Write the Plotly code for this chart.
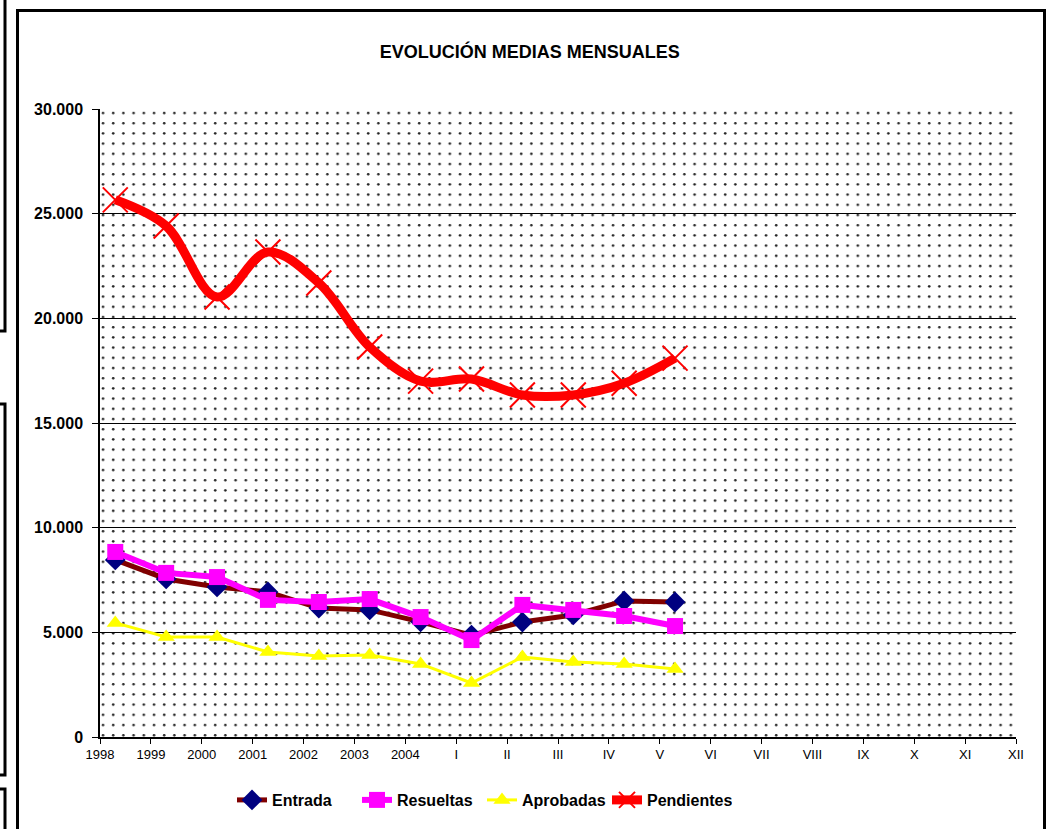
import base64
import plotly.graph_objects as go

# ---- data ----
categories = ["1998", "1999", "2000", "2001", "2002", "2003", "2004",
              "I", "II", "III", "IV", "V"]
axis_labels = ["1998", "1999", "2000", "2001", "2002", "2003", "2004",
               "I", "II", "III", "IV", "V", "VI", "VII", "VIII", "IX", "X", "XI", "XII"]
entrada = [8460, 7550, 7170, 6930, 6160, 6070, 5500, 4870, 5490, 5830, 6500, 6450]
resueltas = [8840, 7840, 7640, 6550, 6450, 6590, 5730, 4630, 6310, 6070, 5780, 5300]
aprobadas = [5450, 4780, 4780, 4060, 3870, 3920, 3490, 2580, 3820, 3580, 3490, 3250]
pendientes = [25660, 24410, 21020, 23170, 21690, 18630, 17000, 17100, 16340, 16340, 16900, 18100]

# ---- layout constants ----
W, H = 1051, 829
L, R, T, B = 100, 35, 109, 92
PW, PH = W - L - R, H - T - B
OFFSET = 0.3  # points sit 30% into each category slot
xpos = [axis_labels.index(c) + OFFSET for c in categories]

FONT = "Liberation Sans, Arial, sans-serif"

# dotted background pattern as inline SVG
svg = (
    f'<svg xmlns="http://www.w3.org/2000/svg" width="{PW}" height="{PH}" viewBox="0 0 {PW} {PH}">'
    '<defs><pattern id="p" width="10.2" height="10.2" patternUnits="userSpaceOnUse">'
    '<circle cx="3" cy="4" r="1.3" fill="#222"/>'
    '</pattern></defs>'
    f'<rect width="{PW}" height="{PH}" fill="white"/>'
    f'<rect width="{PW}" height="{PH}" fill="url(#p)"/></svg>'
)
svg_uri = "data:image/svg+xml;base64," + base64.b64encode(svg.encode()).decode()

fig = go.Figure()
fig.add_trace(go.Scatter(
    x=xpos, y=entrada, name="Entrada", mode="lines+markers",
    line=dict(color="#800000", width=5),
    marker=dict(symbol="diamond", size=16, color="#000080", line=dict(width=0)),
))
fig.add_trace(go.Scatter(
    x=xpos, y=resueltas, name="Resueltas", mode="lines+markers",
    line=dict(color="#FF00FF", width=6),
    marker=dict(symbol="square", size=16, color="#FF00FF", line=dict(width=0)),
))
fig.add_trace(go.Scatter(
    x=xpos, y=aprobadas, name="Aprobadas", mode="lines+markers",
    line=dict(color="#FFFF00", width=3),
    marker=dict(symbol="triangle-up", size=15, color="#FFFF00", line=dict(width=0)),
))
fig.add_trace(go.Scatter(
    x=xpos, y=pendientes, name="Pendientes", mode="lines+markers",
    line=dict(color="#FF0000", width=9, shape="spline", smoothing=1.0),
    marker=dict(symbol="x-thin-open", size=25, color="#FF0000",
                line=dict(width=2, color="#FF0000")),
))


def px_x(p):
    return (p - L) / PW


def px_y(p):
    return (H - B - p) / PH


shapes = [
    # outer chart frame
    dict(type="rect", xref="paper", yref="paper",
         x0=px_x(17.5), x1=px_x(1044.5), y0=px_y(850), y1=px_y(10.5),
         line=dict(color="black", width=3), fillcolor="rgba(0,0,0,0)"),
    # neighbouring frames on the far left
    dict(type="path", xref="paper", yref="paper",
         path=f"M {px_x(5)} {px_y(-5)} L {px_x(5)} {px_y(331)} L {px_x(-5)} {px_y(331)}",
         line=dict(color="black", width=3)),
    dict(type="path", xref="paper", yref="paper",
         path=f"M {px_x(-5)} {px_y(404)} L {px_x(5)} {px_y(404)} L {px_x(5)} {px_y(775)} L {px_x(-5)} {px_y(775)}",
         line=dict(color="black", width=3)),
    dict(type="path", xref="paper", yref="paper",
         path=f"M {px_x(-5)} {px_y(789)} L {px_x(5)} {px_y(789)} L {px_x(5)} {px_y(850)}",
         line=dict(color="black", width=3)),
]

fig.update_layout(
    width=W, height=H,
    margin=dict(l=L, r=R, t=T, b=B),
    paper_bgcolor="white",
    plot_bgcolor="white",
    separators=",.",
    font=dict(family=FONT, color="black"),
    title=dict(text="<b>EVOLUCIÓN MEDIAS MENSUALES</b>", x=0.504, xref="container",
               xanchor="center", y=1 - 52 / H, yanchor="middle",
               font=dict(size=18, family=FONT, color="black")),
    showlegend=True,
    legend=dict(orientation="h", x=px_x(232), xanchor="left",
                y=px_y(783), yanchor="top", valign="middle",
                font=dict(size=16, family=FONT, color="black", weight="bold"),
                bgcolor="rgba(0,0,0,0)", itemwidth=30,
                entrywidth=80, entrywidthmode="pixels"),
    images=[dict(source=svg_uri, xref="paper", yref="paper", x=0, y=1,
                 sizex=1, sizey=1, xanchor="left", yanchor="top",
                 sizing="stretch", layer="below")],
    shapes=shapes,
)

fig.update_xaxes(
    range=[0, len(axis_labels) - 1],
    tickmode="array", tickvals=list(range(len(axis_labels))), ticktext=axis_labels,
    ticks="outside", ticklen=5, tickcolor="black", tickwidth=1,
    showline=True, linecolor="black", linewidth=1.5,
    showgrid=False, zeroline=False,
    tickfont=dict(size=13, family=FONT, color="black"),
)
fig.update_yaxes(
    range=[0, 30000], dtick=5000, tickformat=",d",
    ticks="outside", ticklen=6, tickcolor="black", tickwidth=1,
    showline=True, linecolor="black", linewidth=1.5,
    showgrid=True, gridcolor="black", gridwidth=1, zeroline=False,
    tickfont=dict(size=16, family=FONT, color="black", weight="bold"),
    ticklabelstandoff=6,
)

fig.write_html("out.html", config={"displayModeBar": False},
               post_script="document.body.style.margin='0';")
